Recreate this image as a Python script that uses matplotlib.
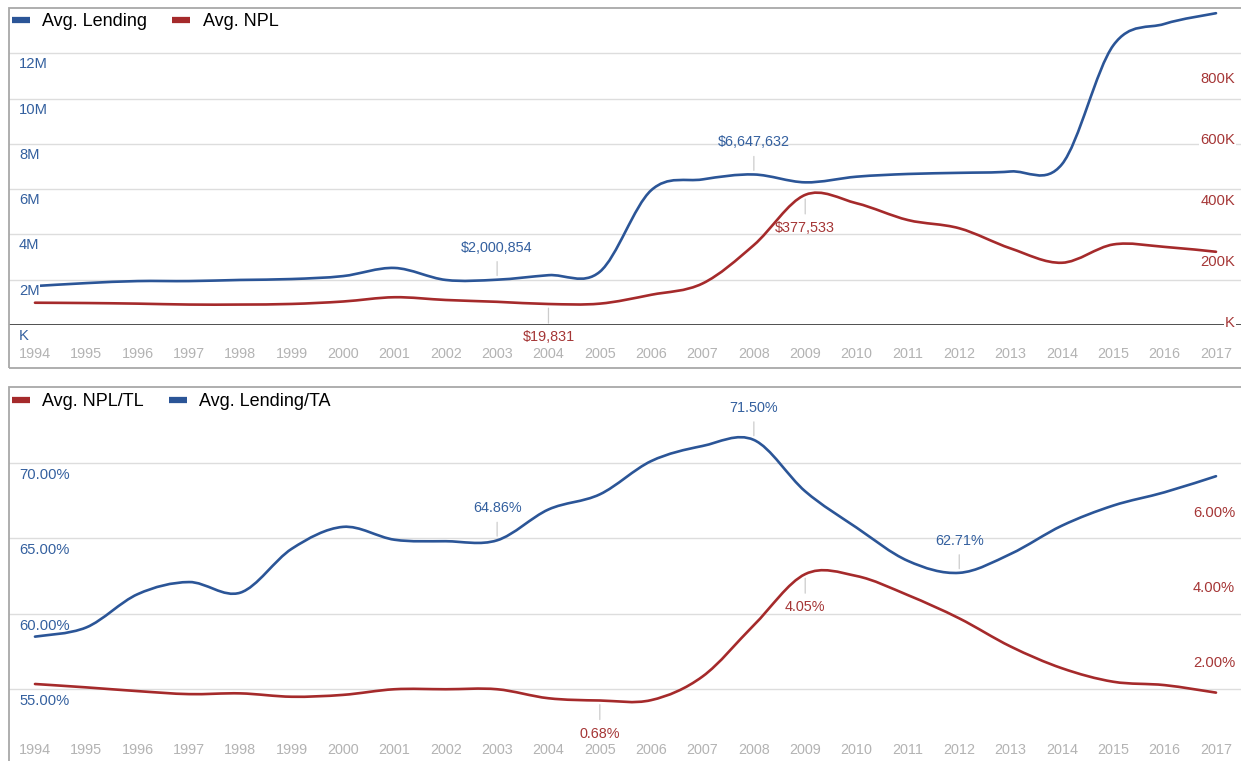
import matplotlib.pyplot as plt
import numpy as np
from matplotlib.path import Path
from matplotlib.patches import PathPatch, Rectangle
from matplotlib.lines import Line2D

plt.rcParams['font.family'] = ['Liberation Sans', 'DejaVu Sans']

years = list(range(1994, 2018))

# top panel: average lending (left axis) and average NPL (right axis)
avg_lending = [1.72e6, 1.85e6, 1.94e6, 1.94e6, 1.99e6, 2.03e6, 2.16e6, 2.52e6,
               1.99e6, 2000854, 2.2e6, 2.35e6, 5.95e6, 6.43e6, 6647632, 6.3e6,
               6.55e6, 6.67e6, 6.72e6, 6.78e6, 7.1e6, 12.35e6, 13.3e6, 13.77e6]
avg_npl = [24e3, 23e3, 21e3, 18e3, 18e3, 20e3, 28e3, 42e3,
           33e3, 27e3, 19831, 21e3, 50e3, 87e3, 213e3, 377533,
           350e3, 295e3, 268e3, 202e3, 155e3, 215e3, 207e3, 191e3]

# bottom panel: ratios in percent
npl_tl = [1.12, 1.03, 0.93, 0.85, 0.87, 0.78, 0.83, 0.98,
          0.98, 0.98, 0.74, 0.68, 0.69, 1.32, 2.69, 4.05,
          4.00, 3.49, 2.87, 2.12, 1.54, 1.18, 1.09, 0.89]
lending_ta = [58.49, 59.1, 61.3, 62.1, 61.4, 64.3, 65.75, 64.9,
              64.8, 64.86, 66.9, 67.9, 70.1, 71.1, 71.50, 68.1,
              65.7, 63.5, 62.71, 63.96, 65.83, 67.16, 68.04, 69.1]

top_left_ticks = [0, 2e6, 4e6, 6e6, 8e6, 10e6, 12e6]
top_left_labels = ['K', '2M', '4M', '6M', '8M', '10M', '12M']
top_right_ticks = [0, 200e3, 400e3, 600e3, 800e3]
top_right_labels = ['K', '200K', '400K', '600K', '800K']
bot_left_ticks = [55, 60, 65, 70]
bot_left_labels = ['55.00%', '60.00%', '65.00%', '70.00%']
bot_right_ticks = [2, 4, 6]
bot_right_labels = ['2.00%', '4.00%', '6.00%']

BLUE = '#2b5597'
RED = '#a52a2b'
BLUE_TXT = '#34609f'
RED_TXT = '#a53636'
GRID = '#dddddd'
YEAR_TXT = '#b3b3b3'

W, H = 1241, 761
fig = plt.figure(figsize=(W / 100, H / 100), dpi=100)


def smooth_line(ax, xs, ys, color, k=1 / 6):
    # cubic bezier through every point (catmull-rom style control points)
    xs = np.asarray(xs, float)
    ys = np.asarray(ys, float)
    n = len(xs)
    verts = [(xs[0], ys[0])]
    codes = [Path.MOVETO]
    for i in range(n - 1):
        a = max(i - 1, 0)
        b = min(i + 2, n - 1)
        c1 = (xs[i] + (xs[i + 1] - xs[a]) * k, ys[i] + (ys[i + 1] - ys[a]) * k)
        c2 = (xs[i + 1] - (xs[b] - xs[i]) * k, ys[i + 1] - (ys[b] - ys[i]) * k)
        verts += [c1, c2, (xs[i + 1], ys[i + 1])]
        codes += [Path.CURVE4] * 3
    ax.add_patch(PathPatch(Path(verts, codes), fill=False, edgecolor=color,
                           lw=1.9, capstyle='round', joinstyle='round', zorder=3))


def axis_labels(host, base, ticks, labels, color, side, drop, masked=True):
    box = dict(fc='white', ec='none', pad=0.5) if masked else None
    for v, lbl in zip(ticks, labels):
        if side == 'left':
            host.annotate(lbl, xy=(0, v), xycoords=base.get_yaxis_transform(),
                          xytext=(10, -drop), textcoords='offset pixels',
                          ha='left', va='top', fontsize=10.6, color=color,
                          bbox=box, zorder=6)
        else:
            host.annotate(lbl, xy=(1, v), xycoords=base.get_yaxis_transform(),
                          xytext=(-6, -drop), textcoords='offset pixels',
                          ha='right', va='top', fontsize=10.6, color=color,
                          bbox=box, zorder=6)


def point_label(host, base, x, v, text, color, up):
    dy = 32 if up else -33
    host.annotate(text, xy=(x, v), xycoords=base.transData,
                  xytext=(0, dy), textcoords='offset pixels',
                  ha='center', va='center', fontsize=10.4, color=color,
                  arrowprops=dict(arrowstyle='-', color='#cccccc', lw=0.9,
                                  shrinkA=3, shrinkB=3,
                                  relpos=(0.5, 0) if up else (0.5, 1)),
                  zorder=6)


def setup(ax, rect_top, rect_bot):
    ax.set_position([9 / W, 1 - rect_bot / H, 1232 / W, (rect_bot - rect_top) / H])
    ax.set_xlim(1993.494, 2017.487)
    for s in ax.spines.values():
        s.set_visible(False)
    ax.set_xticks(years)
    ax.tick_params(axis='x', length=0, colors=YEAR_TXT, labelsize=10.4)
    ax.tick_params(axis='y', length=0, labelleft=False, labelright=False)
    ax.grid(axis='y', color=GRID, lw=1)
    ax.set_axisbelow(True)


# ---- top panel ----
ax1 = fig.add_axes([0, 0, 1, 1])
setup(ax1, 8, 325)
ax1.set_ylim(0, 14e6)
ax1.set_yticks(top_left_ticks)
ax1.tick_params(axis='x', pad=16)
ax1.axhline(0, color='#333333', lw=1.2, zorder=2)
ax1b = ax1.twinx()
ax1b.set_ylim(-49e3, 990e3)
ax1b.set_yticks([])
for s in ax1b.spines.values():
    s.set_visible(False)

smooth_line(ax1, years, avg_lending, BLUE)
smooth_line(ax1b, years, avg_npl, RED)
axis_labels(ax1b, ax1, top_left_ticks, top_left_labels, BLUE_TXT, 'left', 4)
axis_labels(ax1b, ax1b, top_right_ticks, top_right_labels, RED_TXT, 'right', 6)

point_label(ax1b, ax1, 2003, avg_lending[9], '$2,000,854', BLUE_TXT, True)
point_label(ax1b, ax1, 2008, avg_lending[14], '$6,647,632', BLUE_TXT, True)
point_label(ax1b, ax1b, 2009, avg_npl[15], '$377,533', RED_TXT, False)
point_label(ax1b, ax1b, 2004, avg_npl[10], '$19,831', RED_TXT, False)

ax1b.legend(handles=[Line2D([], [], color=BLUE, lw=4.5, solid_capstyle='butt', label='Avg. Lending'),
                     Line2D([], [], color=RED, lw=4.5, solid_capstyle='butt', label='Avg. NPL')],
            loc='upper left', bbox_to_anchor=(12 / W, 1 - 13 / H), bbox_transform=fig.transFigure,
            ncol=2, frameon=False, fontsize=13, handlelength=1.0, handletextpad=0.67,
            columnspacing=1.4, borderpad=0, borderaxespad=0)

# ---- bottom panel ----
ax2 = fig.add_axes([0, 0, 1, 1])
setup(ax2, 387, 726)
ax2.set_ylim(52.58, 75)
ax2.set_yticks(bot_left_ticks)
ax2.tick_params(axis='x', pad=12)
ax2b = ax2.twinx()
ax2b.set_ylim(0, 9.04)
ax2b.set_yticks([])
for s in ax2b.spines.values():
    s.set_visible(False)

smooth_line(ax2, years, lending_ta, BLUE)
smooth_line(ax2b, years, npl_tl, RED)
axis_labels(ax2b, ax2, bot_left_ticks, bot_left_labels, BLUE_TXT, 'left', 5, masked=False)
axis_labels(ax2b, ax2b, bot_right_ticks, bot_right_labels, RED_TXT, 'right', 5, masked=False)

point_label(ax2b, ax2, 2003, lending_ta[9], '64.86%', BLUE_TXT, True)
point_label(ax2b, ax2, 2008, lending_ta[14], '71.50%', BLUE_TXT, True)
point_label(ax2b, ax2, 2012, lending_ta[18], '62.71%', BLUE_TXT, True)
point_label(ax2b, ax2b, 2009, npl_tl[15], '4.05%', RED_TXT, False)
point_label(ax2b, ax2b, 2005, npl_tl[11], '0.68%', RED_TXT, False)

ax2b.legend(handles=[Line2D([], [], color=RED, lw=4.5, solid_capstyle='butt', label='Avg. NPL/TL'),
                     Line2D([], [], color=BLUE, lw=4.5, solid_capstyle='butt', label='Avg. Lending/TA')],
            loc='upper left', bbox_to_anchor=(12 / W, 1 - 393 / H), bbox_transform=fig.transFigure,
            ncol=2, frameon=False, fontsize=13, handlelength=1.0, handletextpad=0.67,
            columnspacing=1.4, borderpad=0, borderaxespad=0)

# panel frames
for top, bot in [(8, 368), (387, 770)]:
    fig.add_artist(Rectangle((8.5 / W, 1 - bot / H), 1300 / W, (bot - top) / H,
                             transform=fig.transFigure, fill=False,
                             ec='#a8a8a8', lw=1.3))

fig.savefig('out.png', dpi=100)
